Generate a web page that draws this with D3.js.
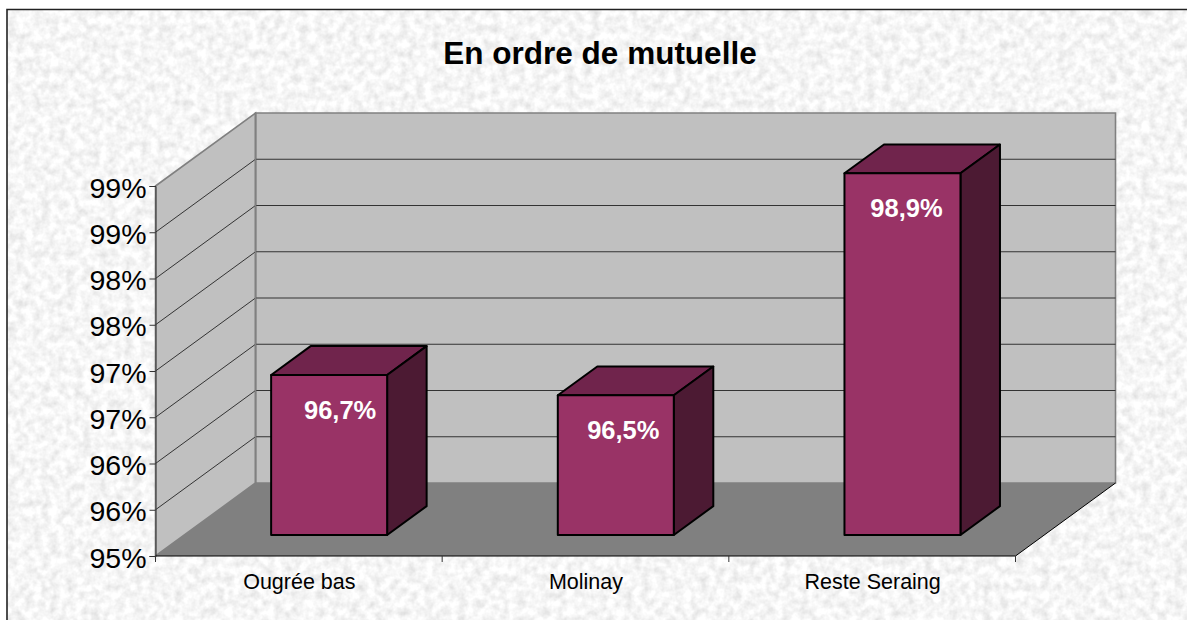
<!DOCTYPE html>
<html>
<head>
<meta charset="utf-8">
<script src="https://cdnjs.cloudflare.com/ajax/libs/d3/7.8.5/d3.min.js"></script>
<style>
html, body { margin: 0; padding: 0; background: #fff; }
svg { display: block; }
text { font-family: "Liberation Sans", Arial, sans-serif; }
</style>
</head>
<body>
<div id="chart"></div>
<script>
// Data
var title = "En ordre de mutuelle";
var categories = ["Ougrée bas", "Molinay", "Reste Seraing"];
var values = [96.73, 96.51, 98.91];
var valueLabels = ["96,7%", "96,5%", "98,9%"];
var tickValues = [95, 95.5, 96, 96.5, 97, 97.5, 98, 98.5, 99];
var tickLabels = ["95%", "96%", "96%", "97%", "97%", "98%", "98%", "99%", "99%"];

var width = 1187, height = 620;

var svg = d3.select("#chart").append("svg")
    .attr("width", width)
    .attr("height", height);

// paper texture
var defs = svg.append("defs");
var paper = defs.append("filter").attr("id", "paper")
    .attr("x", 0).attr("y", 0).attr("width", "100%").attr("height", "100%");
paper.append("feTurbulence")
    .attr("type", "fractalNoise")
    .attr("baseFrequency", 0.12)
    .attr("numOctaves", 3)
    .attr("seed", 7);
paper.append("feColorMatrix")
    .attr("type", "matrix")
    .attr("values", "0 0 0 0.42 0.71  0 0 0 0.42 0.71  0 0 0 0.42 0.71  0 0 0 0 1");

svg.append("rect")
    .attr("x", 7).attr("y", 9)
    .attr("width", 1180).attr("height", 611)
    .attr("filter", "url(#paper)");
// frame, only top and left fall inside the picture
svg.append("path")
    .attr("d", "M7,620V9.5H1187")
    .attr("fill", "none")
    .attr("stroke", "#222")
    .attr("stroke-width", 1.6);

// Scales
var y = d3.scaleLinear().domain([95, 99]).range([556, 186]);
var x = d3.scaleBand().domain(categories).range([155.5, 1015.5]);

// depth of the box and of the bars
var depthX = 100, depthY = -73;
var barWidth = 116;
var barFront = 0.288, barDepth = 0.395;

var x0 = x.range()[0], x1 = x.range()[1];
var yBase = y(95), yTop = y(99);

function pts(a) { return a.map(function(p){ return p.join(","); }).join(" "); }

// back wall, side wall, floor
svg.append("polygon")
    .attr("points", pts([[x0 + depthX, yTop + depthY], [x1 + depthX, yTop + depthY], [x1 + depthX, yBase + depthY], [x0 + depthX, yBase + depthY]]))
    .attr("fill", "#c0c0c0")
    .attr("stroke", "#808080")
    .attr("stroke-width", 1.6);
svg.append("polygon")
    .attr("points", pts([[x0, yTop], [x0 + depthX, yTop + depthY], [x0 + depthX, yBase + depthY], [x0, yBase]]))
    .attr("fill", "#c0c0c0")
    .attr("stroke", "#808080")
    .attr("stroke-width", 1.6);
svg.append("polygon")
    .attr("points", pts([[x0, yBase], [x1, yBase], [x1 + depthX, yBase + depthY], [x0 + depthX, yBase + depthY]]))
    .attr("fill", "#808080");

// gridlines on the walls
var gridTicks = tickValues.slice(1, -1);
svg.selectAll("path.grid")
    .data(gridTicks)
    .enter()
    .append("path")
    .attr("class", "grid")
    .attr("fill", "none")
    .attr("stroke", "#333")
    .attr("stroke-width", 1)
    .attr("d", function(d){
        return "M" + x0 + "," + y(d) + "L" + (x0 + depthX) + "," + (y(d) + depthY) + "L" + (x1 + depthX) + "," + (y(d) + depthY);
    });
svg.append("line")
    .attr("x1", x0 + depthX).attr("x2", x0 + depthX)
    .attr("y1", yTop + depthY).attr("y2", yBase + depthY)
    .attr("stroke", "#808080").attr("stroke-width", 1.6);

// floor edges
svg.append("path")
    .attr("d", "M" + x1 + "," + yBase + "L" + (x1 + depthX) + "," + (yBase + depthY))
    .attr("stroke", "#000").attr("fill", "none");

// Axes
var yAxis = d3.axisLeft(y)
    .tickValues(tickValues)
    .tickFormat(function(d, i){ return tickLabels[i]; })
    .tickSize(6)
    .tickPadding(3);
var yG = svg.append("g")
    .attr("transform", "translate(" + x0 + ",0)")
    .call(yAxis);
yG.select(".domain").attr("stroke", "#333");
yG.selectAll(".tick line").attr("stroke", "#333");
yG.selectAll("text")
    .attr("fill", "#000")
    .attr("y", 2)
    .style("font-family", '"Liberation Sans", Arial, sans-serif')
    .style("font-size", "28.5px");

var xAxis = d3.axisBottom(x).tickSize(0).tickPadding(18);
var xG = svg.append("g")
    .attr("transform", "translate(0.5," + yBase + ")")
    .call(xAxis);
xG.select(".domain").remove();
xG.selectAll("text")
    .attr("fill", "#000")
    .style("font-family", '"Liberation Sans", Arial, sans-serif')
    .style("font-size", "21.5px");
svg.append("line")
    .attr("x1", x0).attr("x2", x1)
    .attr("y1", yBase).attr("y2", yBase)
    .attr("stroke", "#000").attr("stroke-width", 1.2);
svg.selectAll("line.catTick")
    .data([x0, x0 + x.step(), x0 + 2 * x.step(), x1])
    .enter()
    .append("line")
    .attr("class", "catTick")
    .attr("x1", function(d){ return d; })
    .attr("x2", function(d){ return d; })
    .attr("y1", yBase)
    .attr("y2", yBase + 6)
    .attr("stroke", "#333");

// Bars
var bars = svg.selectAll("g.bar")
    .data(categories)
    .enter()
    .append("g")
    .attr("class", "bar");

function barLeft(d) {
    return x(d) + (x.bandwidth() - barWidth) / 2 + barFront * depthX + 1.5;
}
function barBottom() { return yBase + barFront * depthY; }
function barTop(i) { return y(values[i]) + barFront * depthY; }

var dX = barDepth * depthX, dY = barDepth * depthY;

bars.append("polygon")
    .attr("points", function(d, i){
        var l = barLeft(d), t = barTop(i);
        return pts([[l, t], [l + barWidth, t], [l + barWidth + dX, t + dY], [l + dX, t + dY]]);
    })
    .attr("fill", "#70244c");
bars.append("polygon")
    .attr("points", function(d, i){
        var l = barLeft(d) + barWidth, t = barTop(i), b = barBottom();
        return pts([[l, t], [l + dX, t + dY], [l + dX, b + dY], [l, b]]);
    })
    .attr("fill", "#4c1a33");
bars.append("rect")
    .attr("x", function(d){ return barLeft(d); })
    .attr("y", function(d, i){ return barTop(i); })
    .attr("width", barWidth)
    .attr("height", function(d, i){ return barBottom() - barTop(i); })
    .attr("fill", "#993366");
bars.selectAll("*")
    .attr("stroke", "#000")
    .attr("stroke-width", 2)
    .attr("stroke-linejoin", "round");

// Value labels
bars.append("text")
    .attr("x", function(d, i){ return barLeft(d) + barWidth / 2 + 11 - 3.5 * i; })
    .attr("y", function(d, i){ return barTop(i) + 44; })
    .attr("text-anchor", "middle")
    .attr("fill", "#fff")
    .style("font-size", "25.5px")
    .style("font-weight", "bold")
    .text(function(d, i){ return valueLabels[i]; });

// Title
svg.append("text")
    .attr("x", 600)
    .attr("y", 64)
    .attr("text-anchor", "middle")
    .attr("fill", "#000")
    .style("font-size", "31.5px")
    .style("font-weight", "bold")
    .text(title);
</script>
</body>
</html>
